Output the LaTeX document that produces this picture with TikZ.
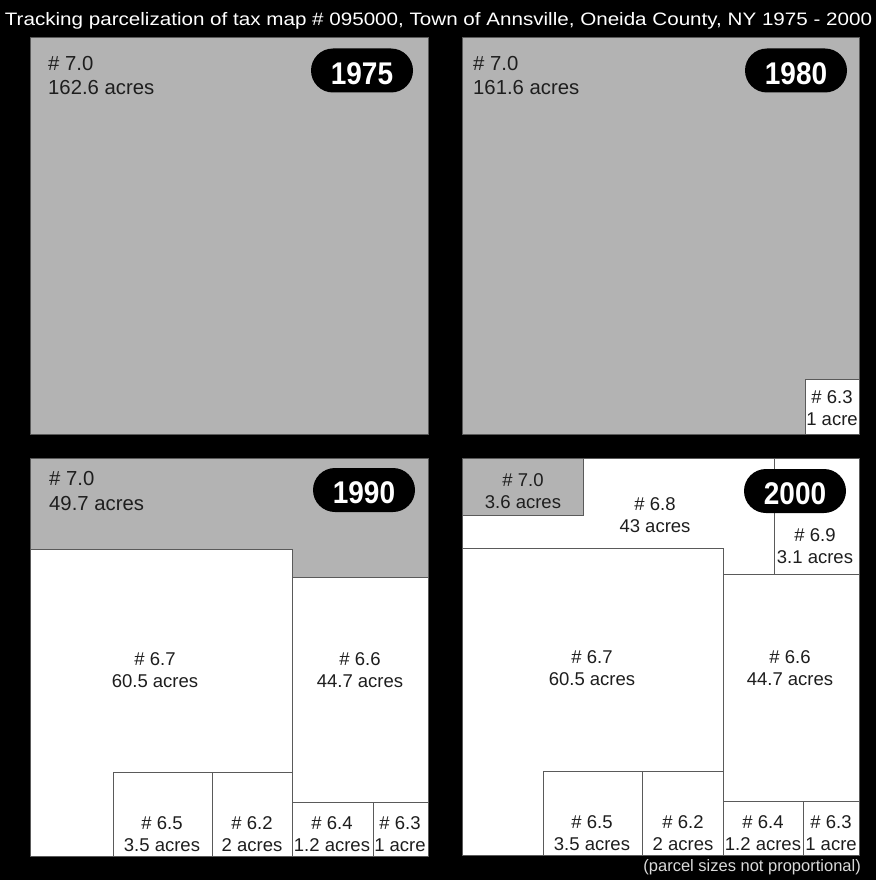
\documentclass[tikz,border=0pt]{standalone}
\usepackage{fontspec}
\setmainfont{Liberation Sans}
\definecolor{parcelgray}{RGB}{179,179,179}
\definecolor{edgegray}{RGB}{90,90,90}
\definecolor{txt}{RGB}{30,30,30}
\tikzset{
  graybox/.style={fill=parcelgray,draw=edgegray,line width=0.9pt},
  whitebox/.style={fill=white,draw=edgegray,line width=0.9pt},
  badgebox/.style={fill=black,rounded corners=22pt,minimum width=102pt,minimum height=44pt,inner sep=0pt},
  badgetext/.style={text=white,inner sep=0pt,font=\fontsize{28}{30}\selectfont\bfseries},
  biglabel/.style={anchor=north west,align=left,text=txt,inner sep=0pt,font=\fontsize{20.3}{24.5}\selectfont},
  plabel/.style={align=center,text=txt,inner sep=0pt,font=\fontsize{18.5}{22}\selectfont},
}
\newcommand\yeartag[1]{\scalebox{1}[1.12]{#1}}
\begin{document}
\begin{tikzpicture}[x=1pt,y=-1pt]
\fill[black] (0,0) rectangle (876,880);
\useasboundingbox (0,0) rectangle (876,880);
\node[text=white,inner sep=0pt,font=\fontsize{18}{20}\selectfont] (title) at (438.5,21) {\scalebox{1.145}[1]{Tracking parcelization of tax map \# 095000, Town of Annsville, Oneida County, NY 1975 - 2000}};
% 1975
\draw[graybox] (30,37) rectangle (428,434);
\node[biglabel] (a70) at (48,56) {\# 7.0\\162.6 acres};
\node[badgebox] (y1975) at (362,70.5) {};
\node[badgetext] (t1975) at ([yshift=-3pt]y1975.center) {\yeartag{1975}};
% 1980
\draw[graybox] (462,37) rectangle (859,434);
\draw[whitebox] (805,379) rectangle (859,434);
\node[biglabel] (b70) at (473,56) {\# 7.0\\161.6 acres};
\node[plabel] (b63) at (832,408) {\# 6.3\\1 acre};
\node[badgebox] (y1980) at (796,70.5) {};
\node[badgetext] (t1980) at ([yshift=-3pt]y1980.center) {\yeartag{1980}};
% 1990
\draw[graybox] (30,458) rectangle (428,856);
\draw[whitebox] (30,549) rectangle (292,856);
\draw[whitebox] (292,577) rectangle (428,802);
\draw[whitebox] (113,772) rectangle (212,856);
\draw[whitebox] (212,772) rectangle (292,856);
\draw[whitebox] (292,802) rectangle (373,856);
\draw[whitebox] (373,802) rectangle (428,856);
\node[biglabel] (c70) at (49,471.5) {\# 7.0\\49.7 acres};
\node[badgebox] (y1990) at (364,490) {};
\node[badgetext] (t1990) at ([yshift=-3pt]y1990.center) {\yeartag{1990}};
\node[plabel] (c67) at (155,670) {\# 6.7\\60.5 acres};
\node[plabel] (c66) at (360,670) {\# 6.6\\44.7 acres};
\node[plabel] (c65) at (162,834) {\# 6.5\\3.5 acres};
\node[plabel] (c62) at (252,834) {\# 6.2\\2 acres};
\node[plabel] (c64) at (332,834) {\# 6.4\\1.2 acres};
\node[plabel] (c63) at (400,834) {\# 6.3\\1 acre};
% 2000
\draw[whitebox] (462,458) rectangle (859,855);
\draw[graybox] (462,458) rectangle (583,515);
\draw[whitebox] (774,458) rectangle (859,574);
\draw[whitebox] (462,548) rectangle (723,855);
\draw[whitebox] (723,574) rectangle (859,801);
\draw[whitebox] (543,771) rectangle (642,855);
\draw[whitebox] (642,771) rectangle (723,855);
\draw[whitebox] (723,801) rectangle (803,855);
\draw[whitebox] (803,801) rectangle (859,855);
\node[plabel] (d70) at (523,491) {\# 7.0\\3.6 acres};
\node[plabel] (d68) at (655,515) {\# 6.8\\43 acres};
\node[plabel] (d69) at (815,546) {\# 6.9\\3.1 acres};
\node[badgebox] (y2000) at (795,491) {};
\node[badgetext] (t2000) at ([yshift=-3pt]y2000.center) {\yeartag{2000}};
\node[plabel] (d67) at (592,668) {\# 6.7\\60.5 acres};
\node[plabel] (d66) at (790,668) {\# 6.6\\44.7 acres};
\node[plabel] (d65) at (592,833) {\# 6.5\\3.5 acres};
\node[plabel] (d62) at (683,833) {\# 6.2\\2 acres};
\node[plabel] (d64) at (763,833) {\# 6.4\\1.2 acres};
\node[plabel] (d63) at (831,833) {\# 6.3\\1 acre};
\node[text=white!85!black,anchor=east,inner sep=0pt,font=\fontsize{16.5}{18}\selectfont] (note) at (861,867) {(parcel sizes not proportional)};
\end{tikzpicture}
\end{document}
